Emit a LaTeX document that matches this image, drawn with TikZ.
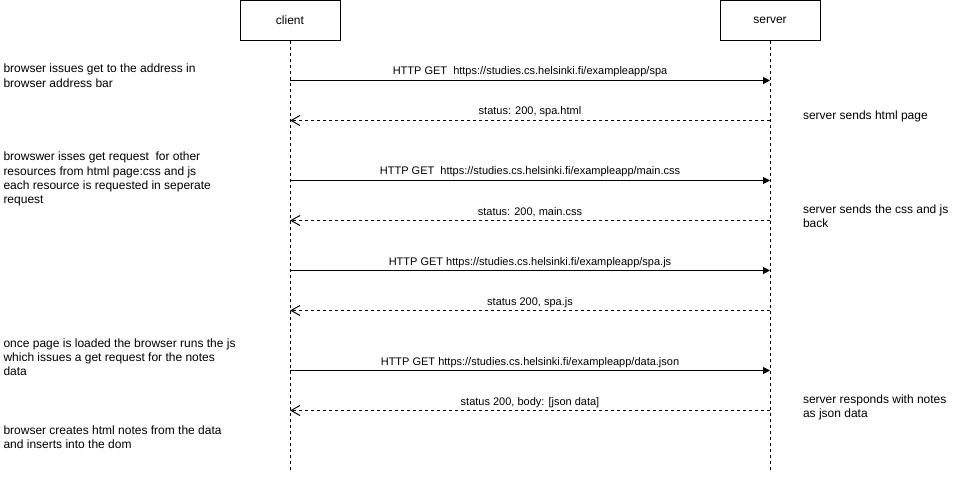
\documentclass[tikz,border=0pt]{standalone}
\usepackage{fontspec}
\setmainfont{Liberation Sans}
\usetikzlibrary{arrows.meta}
\begin{document}
\begin{tikzpicture}[x=1pt,y=-1pt,line width=1pt,
  actor/.style={draw,rectangle,minimum width=100pt,minimum height=40pt,inner sep=0pt,font=\fontsize{12}{14.4}\selectfont},
  lifeline/.style={dash pattern=on 3pt off 3pt},
  req/.style={-{Triangle[length=7pt,width=7pt]}},
  resp/.style={dash pattern=on 3pt off 3pt,-{Straight Barb[length=9pt,width=10pt]}},
  msg/.style={font=\fontsize{11}{13.2}\selectfont,anchor=base,inner sep=0pt},
  note/.style={font=\fontsize{12}{14.4}\selectfont,align=left,anchor=north west,inner sep=0pt}]
\useasboundingbox (0,0) rectangle (960,481);
% actors
\node[actor] (client) at (290,20.5) {client};
\node[actor] (server) at (770,20.5) {server};
\coordinate (cend) at (290,470);
\coordinate (send) at (770,470);
\draw[lifeline] (client.south) -- (cend);
\draw[lifeline] (server.south) -- (send);
% message anchor points
\foreach \i/\y in {1/80.5,2/120.5,3/180.5,4/220.5,5/270.5,6/310.5,7/370.5,8/410.5}{
  \coordinate (c\i) at (290,\y);
  \coordinate (s\i) at (770,\y);
}
% messages
\draw[req] (c1) -- (s1);
\node[msg] (m1) at (530,75) {HTTP GET\ \ https://studies.cs.helsinki.fi/exampleapp/spa};
\draw[resp] (s2) -- (c2);
\node[msg] (m2) at (530,115) {status: 200, spa.html};
\draw[req] (c3) -- (s3);
\node[msg] (m3) at (530,175) {HTTP GET\ \ https://studies.cs.helsinki.fi/exampleapp/main.css};
\draw[resp] (s4) -- (c4);
\node[msg] (m4) at (530,215) {status: 200, main.css};
\draw[req] (c5) -- (s5);
\node[msg] (m5) at (530,265) {HTTP GET https://studies.cs.helsinki.fi/exampleapp/spa.js};
\draw[resp] (s6) -- (c6);
\node[msg] (m6) at (530,305) {status 200, spa.js};
\draw[req] (c7) -- (s7);
\node[msg] (m7) at (530,365) {HTTP GET https://studies.cs.helsinki.fi/exampleapp/data.json};
\draw[resp] (s8) -- (c8);
\node[msg] (m8) at (530,405) {status 200, body: [json data]};
% notes left
\node[note] (n1) at (3,63.5) {browser issues get to the address in\\browser address bar};
\node[note] (n2) at (3,151.5) {browswer isses get request\ \ for other\\resources from html page:css and js\\each resource is requested in seperate\\request};
\node[note] (n3) at (3,338) {once page is loaded the browser runs the js\\which issues a get request for the notes\\data};
\node[note] (n4) at (3,425) {browser creates html notes from the data\\and inserts into the dom};
% notes right
\node[note] (r1) at (802.5,110.4) {server sends html page};
\node[note] (r2) at (802.5,204) {server sends the css and js\\back};
\node[note] (r3) at (802.5,394) {server responds with notes\\as json data};
\end{tikzpicture}
\end{document}
